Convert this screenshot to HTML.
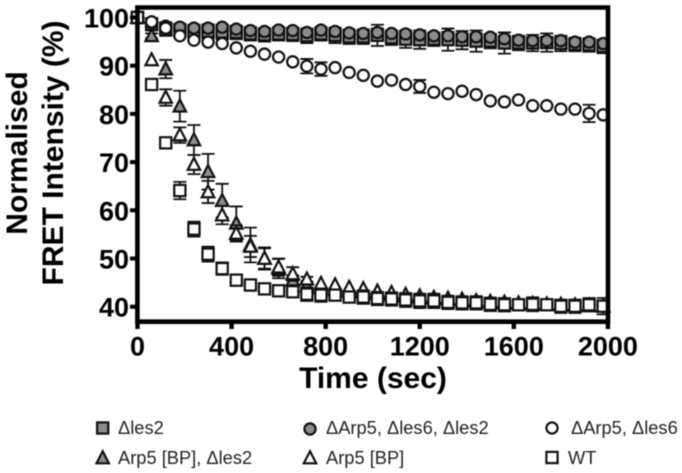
<!DOCTYPE html>
<html lang="en">
<head>
<meta charset="utf-8">
<title>FRET intensity chart</title>
<style>
html,body{margin:0;padding:0;background:#fff;}
svg{display:block;filter:blur(0.4px);}
text{font-family:"Liberation Sans",Arial,sans-serif;fill:#000;}
.tick{font-weight:bold;font-size:27px;}
.title{font-weight:bold;font-size:30px;}
.leg{font-size:18.3px;fill:#222;}
</style>
</head>
<body>
<svg id="chart" xmlns="http://www.w3.org/2000/svg" width="682" height="473" viewBox="0 0 682 473">
  <g id="marks"></g>
  <g id="axes"></g>
  <g>
    <text class="title" text-anchor="middle" transform="translate(27,153) rotate(-90)">Normalised</text>
    <text class="title" text-anchor="middle" transform="translate(63,153) rotate(-90)">FRET Intensity (%)</text>
  </g>
  <text class="title" x="373" y="388" text-anchor="middle">Time (sec)</text>
  <g id="legend">
    <text class="leg" x="118" y="434">Δles2</text>
    <text class="leg" x="326" y="434">ΔArp5, Δles6, Δles2</text>
    <text class="leg" x="571" y="434">ΔArp5, Δles6</text>
    <text class="leg" x="118" y="464">Arp5 [BP], Δles2</text>
    <text class="leg" x="326" y="464">Arp5 [BP]</text>
    <text class="leg" x="568" y="464">WT</text>
  </g>
</svg>
<script>
var xTicks = [0, 400, 800, 1200, 1600, 2000];
var yTicks = [40, 50, 60, 70, 80, 90, 100];

var times = [0,60,120,180,240,300,360,420,480,540,600,660,720,780,840,900,960,1020,1080,1140,1200,1260,1320,1380,1440,1500,1560,1620,1680,1740,1800,1860,1920,1980];

var ies2Values = [100,98.6,97.6,97.3,97.1,97.1,97,96.9,96.6,96.4,96.6,96.5,96.2,96.6,96.3,96,96,96.3,95.8,95.5,95.4,95.5,95.4,95.3,95.1,95.1,94.7,94.7,94.7,94.8,94.6,94.4,94.3,94];
var ies2Errors = [0,1.3,1.4,1.4,1.4,1.5,1.5,1.4,1.4,1.4,1.4,1.4,1.5,1.4,1.6,1.5,1.5,2.2,1.5,1.8,1.9,1.4,2.3,1.9,2.2,1.5,2.2,1.5,1.7,1.9,1.6,1.4,1.4,1.4];

var tripleValues = [100,98.9,98.2,98,97.8,97.8,98,97.6,97.3,97.1,97.4,97.3,96.9,97.4,97.1,96.8,96.7,96.9,96.7,96.6,96.4,96.2,96.2,96,96,95.9,95.6,95.3,95.2,95.2,95.2,94.9,94.9,94.6];
var tripleErrors = [0,0.4,0.4,0.4,0.4,0.4,0.5,0.4,0.4,0.4,0.4,0.4,0.4,0.4,0.4,0.4,0.4,0.8,0.5,0.5,0.5,0.4,0.8,0.7,0.7,0.5,0.6,0.4,0.5,0.7,0.5,0.4,0.4,0.4];

var arp5Ies6Values = [100,99.1,97.8,96.2,95.3,94.9,94.6,93.7,93,92.4,91.8,90.8,89.9,89.3,89.6,88.6,88,86.8,87,86.1,85.7,84.5,84.2,84.7,84,82.7,82.5,82.9,81.7,81.7,81,81,80.1,79.8];
var arp5Ies6Errors = [0,0,0,0,0,0,0,0,0,0,0,0,1.5,1.4,0,0,0,0,0,0,1.35,0,0,0,0,0,0,0,0,0,0,0,1.8,0];

var bpIes2Values = [100,96.2,89.3,81.6,74.6,68,62,57.3,52.8,50,47.9,45.5,44.3,43.9,43.5,43.2,43,42.7,42.5,42.2,42,41.8,41.6,41.4,41.2,41,40.8,40.7,40.6,40.5,40.4,40.3,40.2,40.1];
var bpIes2Errors = [0,0.5,1.9,3.2,3.1,3.7,3.5,3.5,3.6,2.3,2,1,0.5,0,0,0,0,0,0,0,0,0,0,0,0,0,0,0,0,0,0,0,0,0];

var bpValues = [100,91.2,83.4,75.6,69.5,63.8,59,55.2,52.5,50,48.2,46.8,45.7,44.8,44.5,44,43.7,43.2,42.9,42.5,42.2,41.9,41.7,41.5,41.2,41,40.9,40.7,40.6,40.5,40.4,40.3,40.2,40.1];
var bpErrors = [0,0,1.7,1.6,2,2.3,1.9,1.7,2.2,2.1,1.8,1.4,0.5,0,0,0,0,0,0,0,0,0,0,0,0,0,0,0,0,0,0,0,0,0];

var wtValues = [100,86.1,74,64.1,56.1,50.9,47.9,45.5,44.5,43.7,43.3,43.1,42.6,42.4,42.4,42,42,41.7,41.6,41.4,41.2,41.2,40.9,40.8,40.8,40.5,40.4,40.4,40.5,40.4,40.1,40.1,40.4,40.1];
var wtErrors = [0,0,0,1.8,1.55,1.55,1.3,0,0,0,0,0,1.4,1.4,0,0,1.4,1.4,1.4,1.45,1.5,1.5,1.4,1.4,1.4,1.4,1.4,0,1.45,0,1.4,1.4,1.4,1.7];

var NS = 'http://www.w3.org/2000/svg';
var marks = document.getElementById('marks');
var axes = document.getElementById('axes');
var legend = document.getElementById('legend');

function xScale(v) { return 137.5 + v * 0.2352; }
function yScale(v) { return 17.5 + (100 - v) * 4.82; }

function make(tag, attrs, parent) {
  var el = document.createElementNS(NS, tag);
  for (var k in attrs) { el.setAttribute(k, attrs[k]); }
  parent.appendChild(el);
  return el;
}

function drawMarker(kind, fill, cx, cy, parent) {
  var el;
  if (kind === 'square') {
    el = make('rect', {x: cx - 5.6, y: cy - 5.6, width: 11.2, height: 11.2, fill: fill, stroke: '#111', 'stroke-width': 2.2}, parent);
  } else if (kind === 'circle') {
    el = make('circle', {cx: cx, cy: cy, r: 5.6, fill: fill, stroke: '#111', 'stroke-width': 2.2}, parent);
  } else {
    el = make('polygon', {points: (cx - 6.2) + ',' + (cy + 5.3) + ' ' + (cx + 6.2) + ',' + (cy + 5.3) + ' ' + cx + ',' + (cy - 6.7), fill: fill, stroke: '#111', 'stroke-width': 2.2}, parent);
  }
  return el;
}

function drawSeries(name, kind, fill, values, errors) {
  var group = make('g', {}, marks);
  
  
  for (var i = 0; i < times.length; i++) {
    var cx = xScale(times[i]);
    var cy = yScale(values[i]);
    if (errors[i] > 0) {
      var hi = yScale(values[i] + errors[i]);
      var lo = yScale(values[i] - errors[i]);
      var bar = make('path', {d: 'M' + (cx - 6.5) + ' ' + hi + 'H' + (cx + 6.5) + 'M' + cx + ' ' + hi + 'V' + lo + 'M' + (cx - 6.5) + ' ' + lo + 'H' + (cx + 6.5), fill: 'none', stroke: '#111', 'stroke-width': 1.8}, group);
      
      
    }
    var m = drawMarker(kind, fill, cx, cy, group);
    
    
  }
}

var frame = make('path', {d: 'M137.4 7.5H608V321.7H137.4Z', fill: 'none', stroke: '#000', 'stroke-width': 4.6}, axes);



xTicks.forEach(function (t) {
  var x = xScale(t);
  var tk = make('line', {x1: x, x2: x, y1: 321, y2: 329, stroke: '#000', 'stroke-width': 4.4}, axes);
  
  
  var lb = make('text', {x: x, y: 355.5, 'text-anchor': 'middle', 'class': 'tick'}, axes);
  
  
  lb.textContent = t;
});

yTicks.forEach(function (t) {
  var y = yScale(t);
  var tk = make('line', {x1: 130, x2: 138, y1: y, y2: y, stroke: '#000', 'stroke-width': 4}, axes);
  
  
  var lb = make('text', {x: 129, y: y + 10, 'text-anchor': 'end', 'class': 'tick'}, axes);
  
  
  lb.textContent = t;
});

drawSeries('ies2', 'square', '#8c8c8c', ies2Values, ies2Errors);
drawSeries('arp5-ies6-ies2', 'circle', '#8c8c8c', tripleValues, tripleErrors);
drawSeries('arp5bp-ies2', 'triangle', '#8c8c8c', bpIes2Values, bpIes2Errors);
drawSeries('arp5-ies6', 'circle', '#fff', arp5Ies6Values, arp5Ies6Errors);
drawSeries('arp5bp', 'triangle', '#fff', bpValues, bpErrors);
drawSeries('wt', 'square', '#fff', wtValues, wtErrors);

var k1 = drawMarker('square', '#8c8c8c', 102.7, 428, legend);


var k2 = drawMarker('circle', '#8c8c8c', 310, 429, legend);


var k3 = drawMarker('circle', '#fff', 552, 428, legend);


var k4 = drawMarker('triangle', '#8c8c8c', 102.7, 458, legend);


var k5 = drawMarker('triangle', '#fff', 310, 458, legend);


var k6 = drawMarker('square', '#fff', 552, 457.5, legend);


</script>
</body>
</html>
